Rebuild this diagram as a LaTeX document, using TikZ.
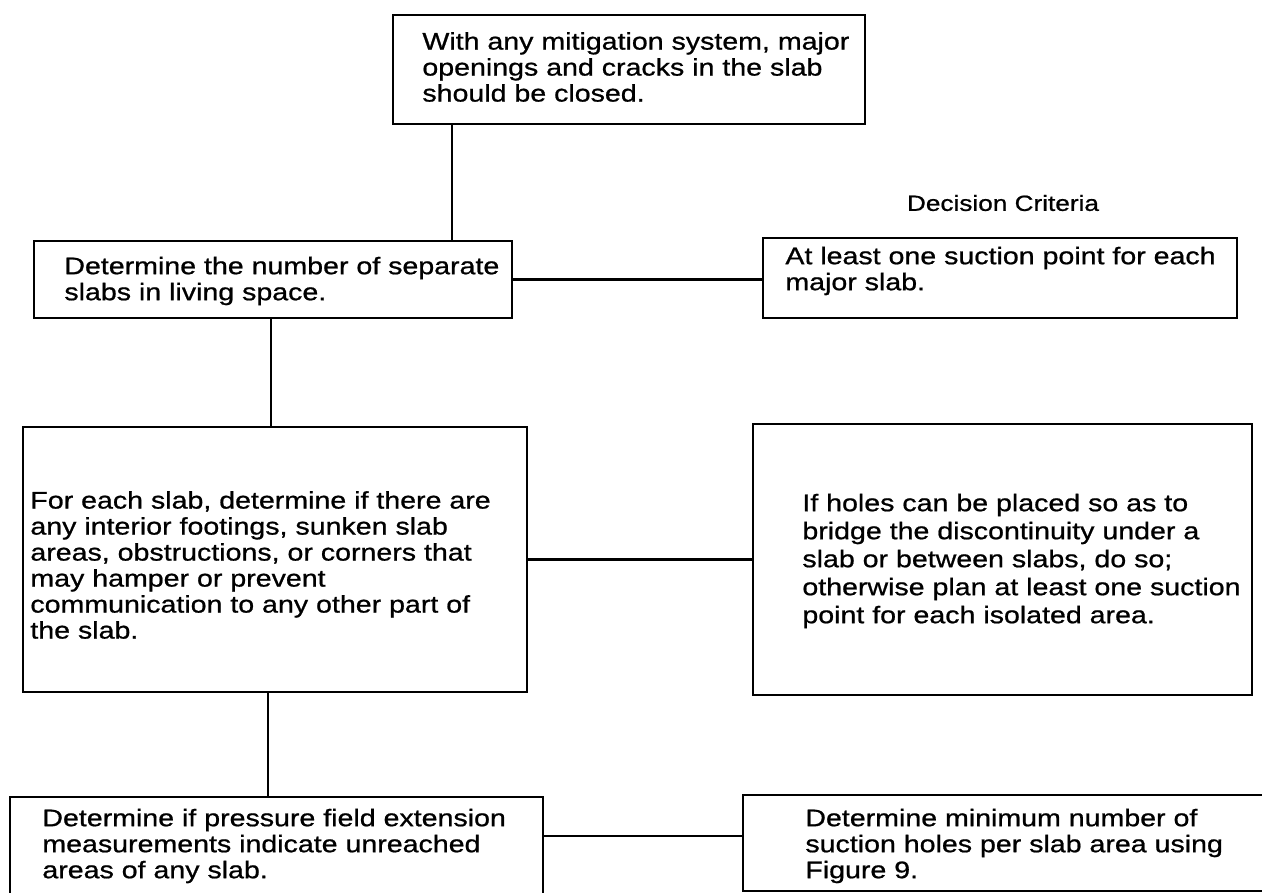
\documentclass[tikz,border=0pt]{standalone}
\usepackage{fontspec}
\setmainfont{Liberation Sans}[FakeStretch=1.19,FakeBold=0.8]
\begin{document}
\begin{tikzpicture}[x=0.5pt,y=-0.5pt,
  boxstyle/.style={draw=black, line width=1.4pt, rectangle, inner sep=0pt},
  txt/.style={align=left, inner sep=0pt, anchor=west, font=\fontsize{12pt}{13pt}\selectfont},
  conn/.style={draw=black, line width=1.4pt}]
\useasboundingbox (0,0) rectangle (1262,893);
\clip (0,0) rectangle (1262,893);
\fill[white] (0,0) rectangle (1262,893);

% boxes
\node[boxstyle, minimum width=236pt, minimum height=54.5pt] (b1) at (629,69.5) {};
\node[boxstyle, minimum width=239pt, minimum height=38.5pt] (b2) at (273,279.5) {};
\node[boxstyle, minimum width=237pt, minimum height=40pt] (b3) at (1000,278) {};
\node[boxstyle, minimum width=252pt, minimum height=132.5pt] (b4) at (275,559.5) {};
\node[boxstyle, minimum width=249.5pt, minimum height=135.5pt] (b5) at (1002.5,559.5) {};
\node[boxstyle, minimum width=266.5pt, minimum height=81.5pt] (b6) at (276.5,878.5) {};
\node[boxstyle, minimum width=266pt, minimum height=48pt] (b7) at (1009,843) {};

% texts
\node[txt] (t1) at (422,67) {With any mitigation system, major\\openings and cracks in the slab\\should be closed.};
\node[txt] (t2) at (64,281) {Determine the number of separate\\slabs in living space.};
\node[txt] (t3) at (785,271) {At least one suction point for each\\major slab.};
\node[txt] (t4) at (30,565) {For each slab, determine if there are\\any interior footings, sunken slab\\areas, obstructions, or corners that\\may hamper or prevent\\communication to any other part of\\the slab.};
\node[txt, font=\fontsize{12pt}{14pt}\selectfont] (t5) at (802,561) {If holes can be placed so as to\\bridge the discontinuity under a\\slab or between slabs, do so;\\otherwise plan at least one suction\\point for each isolated area.};
\node[txt] (t6) at (42,846) {Determine if pressure field extension\\measurements indicate unreached\\areas of any slab.};
\node[txt] (t7) at (805,846) {Determine minimum number of\\suction holes per slab area using\\Figure 9.};
\node[inner sep=0pt, font=\fontsize{11pt}{13pt}\selectfont] (dc) at (1003,203) {Decision Criteria};

% connector guides
\coordinate (v1) at (452,0);
\coordinate (v2) at (271,0);
\coordinate (v3) at (268,0);
\coordinate (h3) at (0,836);

% connectors
\draw[conn] (b1.south -| v1) -- (b2.north -| v1);
\draw[conn] (b2.east) -- (b2.east -| b3.west);
\draw[conn] (b2.south -| v2) -- (b4.north -| v2);
\draw[conn] (b4.east) -- (b4.east -| b5.west);
\draw[conn] (b4.south -| v3) -- (b6.north -| v3);
\draw[conn] (b6.east |- h3) -- (b7.west |- h3);
\end{tikzpicture}
\end{document}
